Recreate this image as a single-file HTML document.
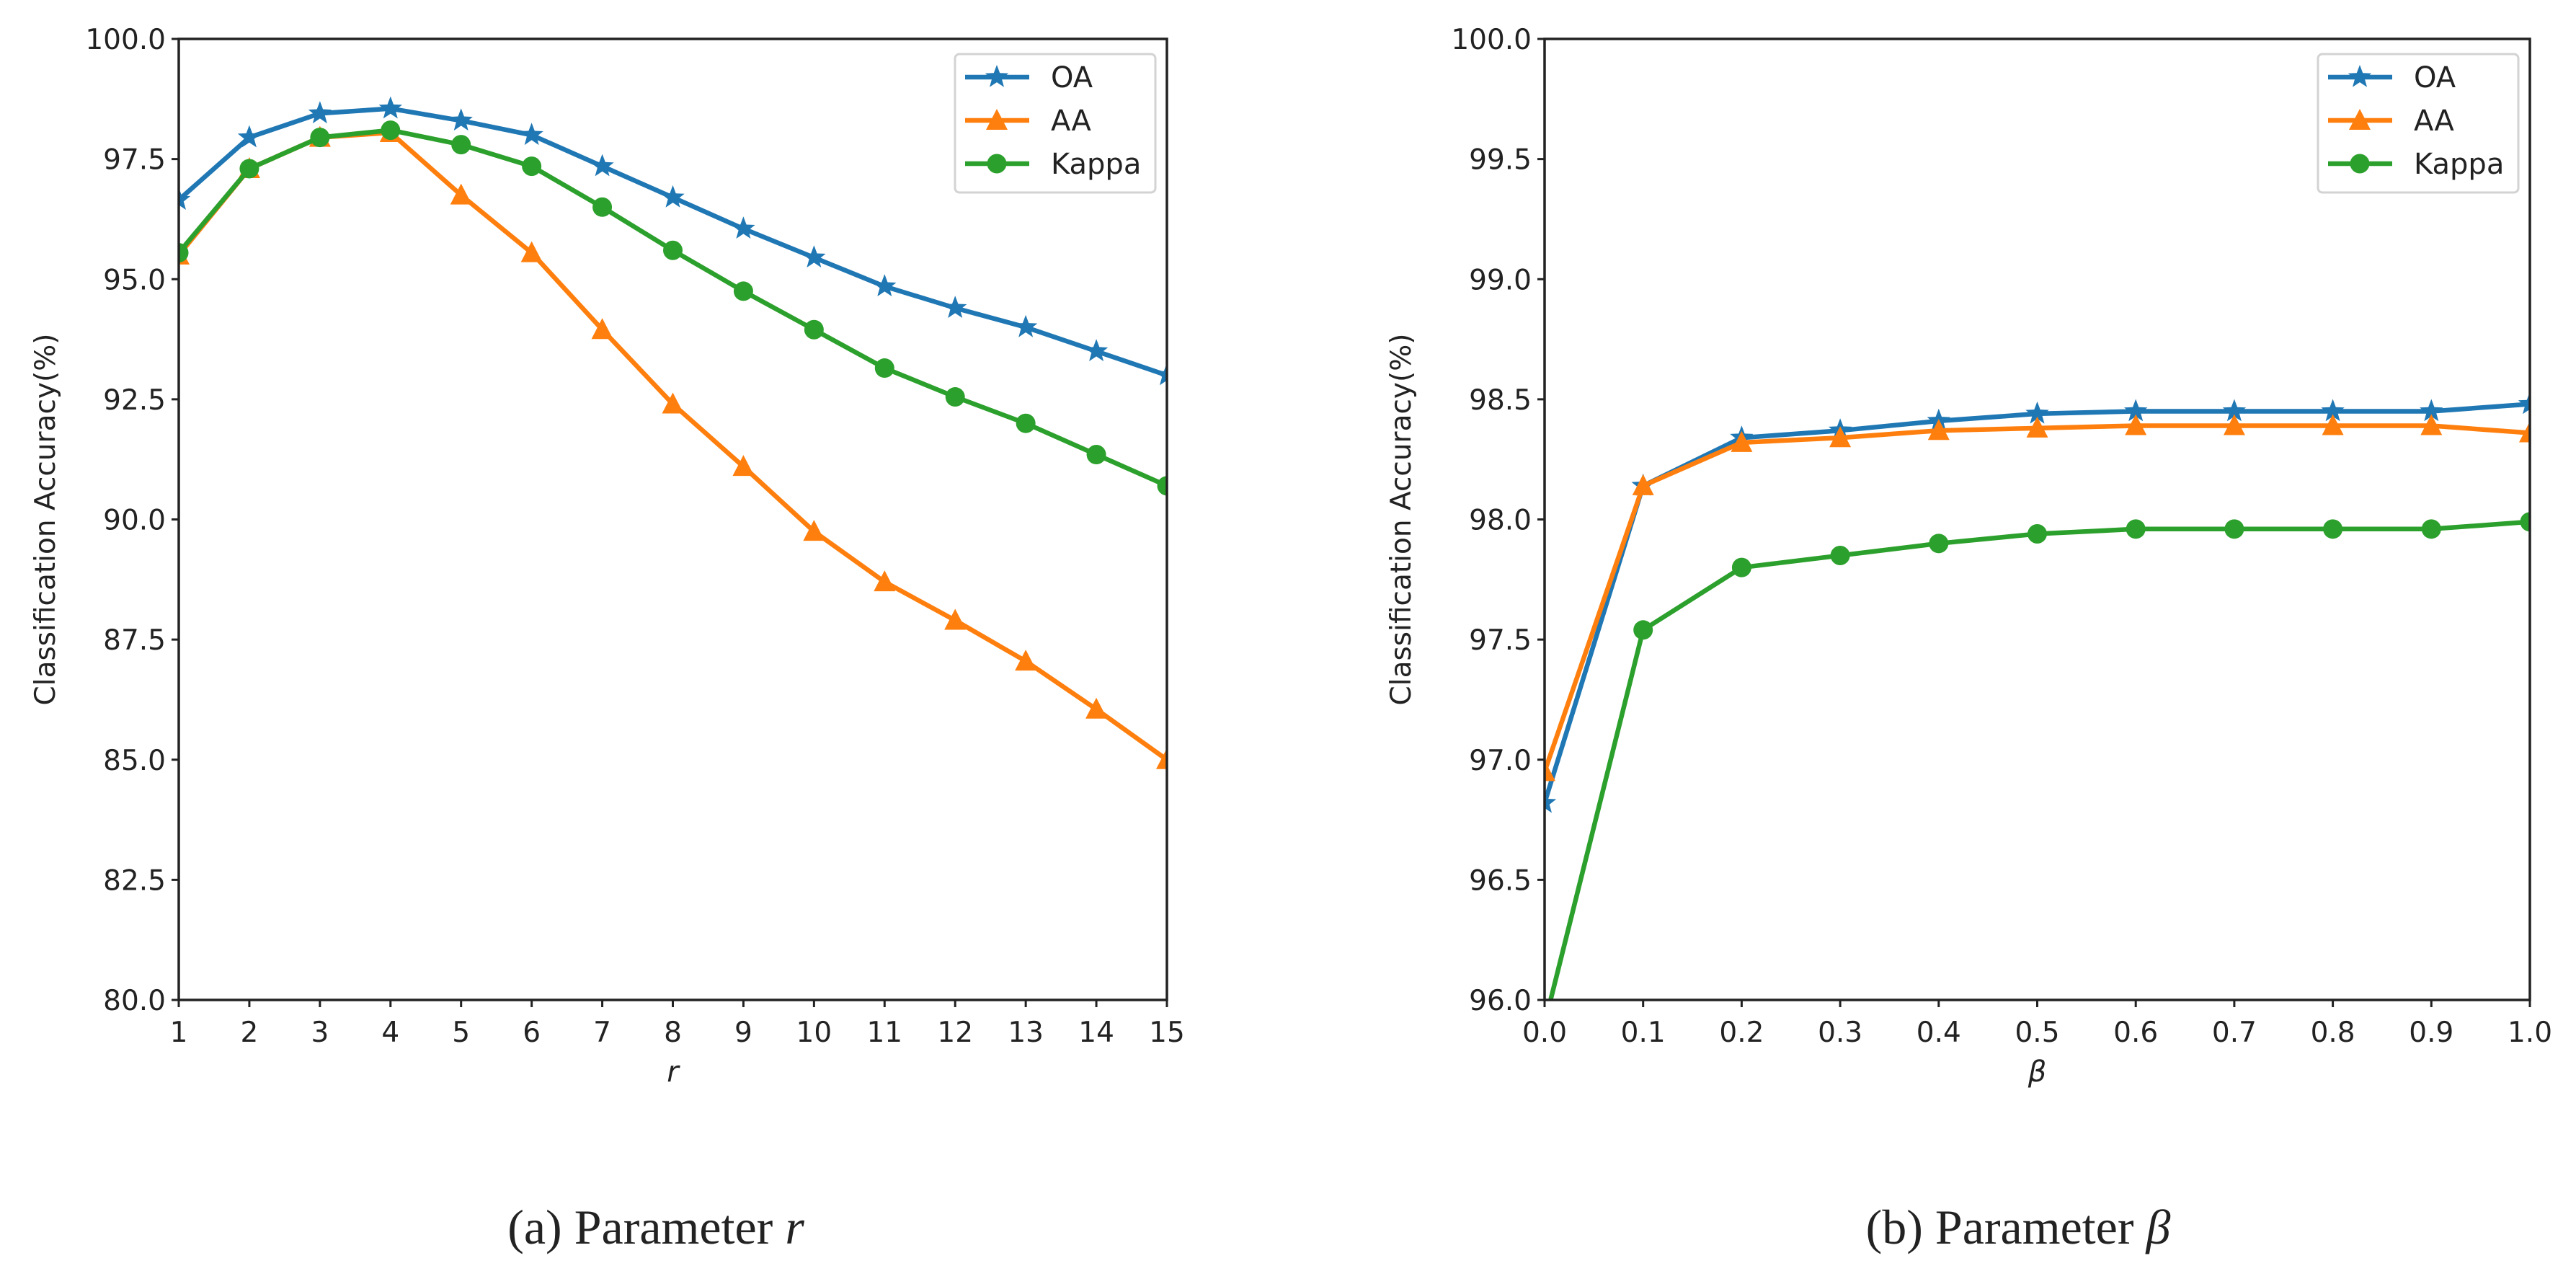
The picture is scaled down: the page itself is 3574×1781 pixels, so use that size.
<!DOCTYPE html>
<html><head><meta charset="utf-8"><style>
body{margin:0;background:#fff}
svg{display:block}
text{font-family:"DejaVu Sans","Liberation Sans",sans-serif;fill:#222}
</style></head><body>
<svg id="fig" width="3574" height="1781" viewBox="0 0 3574 1781" xmlns="http://www.w3.org/2000/svg">
<defs>
<clipPath id="clipA"><rect x="248" y="54" width="1371" height="1333"/></clipPath>
<clipPath id="clipB"><rect x="2143" y="54" width="1367" height="1333"/></clipPath>
</defs>
</svg>
<script>
// ---- Panel (a): parameter r ----
const rCats = [1,2,3,4,5,6,7,8,9,10,11,12,13,14,15];
const rOA = [96.65,97.95,98.45,98.55,98.3,98.0,97.35,96.7,96.05,95.45,94.85,94.4,94.0,93.5,93.0];
const rAA = [95.5,97.3,97.95,98.05,96.75,95.55,93.95,92.4,91.1,89.75,88.7,87.9,87.05,86.05,85.0];
const rKappa = [95.55,97.3,97.95,98.1,97.8,97.35,96.5,95.6,94.75,93.95,93.15,92.55,92.0,91.35,90.7];
const rYTicks = ["80.0","82.5","85.0","87.5","90.0","92.5","95.0","97.5","100.0"];
const rXTicks = ["1","2","3","4","5","6","7","8","9","10","11","12","13","14","15"];
// ---- Panel (b): parameter beta ----
const bCats = [0,0.1,0.2,0.3,0.4,0.5,0.6,0.7,0.8,0.9,1.0];
const bOA = [96.82,98.14,98.34,98.37,98.41,98.44,98.45,98.45,98.45,98.45,98.48];
const bAA = [96.95,98.14,98.32,98.34,98.37,98.38,98.39,98.39,98.39,98.39,98.36];
const bKappa = [95.9,97.54,97.80,97.85,97.90,97.94,97.96,97.96,97.96,97.96,97.99];
const bYTicks = ["96.0","96.5","97.0","97.5","98.0","98.5","99.0","99.5","100.0"];
const bXTicks = ["0.0","0.1","0.2","0.3","0.4","0.5","0.6","0.7","0.8","0.9","1.0"];

const NS = "http://www.w3.org/2000/svg";
const svg = document.getElementById('fig');
const C = {OA:"#1f77b4", AA:"#ff7f0e", Kappa:"#2ca02c"};
function mk(tag, attrs, parent){const e=document.createElementNS(NS,tag);for(const k in attrs)e.setAttribute(k,attrs[k]);(parent||svg).appendChild(e);return e;}
function starPts(cx,cy,R){let p=[];for(let i=0;i<10;i++){const r=i%2?R*0.42:R;const a=-Math.PI/2+i*Math.PI/5;p.push((cx+r*Math.cos(a)).toFixed(1)+","+(cy+r*Math.sin(a)).toFixed(1));}return p.join(" ");}
function marker(kind,x,y,color,g){
  let e;
  if(kind==="star") e=mk('polygon',{points:starPts(x,y,17),fill:color},g);
  else if(kind==="tri") e=mk('polygon',{points:`${x},${y-16} ${x-15},${y+13} ${x+15},${y+13}`,fill:color},g);
  else e=mk('circle',{cx:x,cy:y,r:13.5,fill:color},g);
  return e;
}
function panel(o){
  const X0=o.x0,X1=o.x1,Y0=54,Y1=1387;
  const sx=v=>X0+(v-o.xmin)/(o.xmax-o.xmin)*(X1-X0);
  const sy=v=>Y1-(v-o.ymin)/(o.ymax-o.ymin)*(Y1-Y0);
  const g=mk('g',{});
  
  
  o.yt.forEach(t=>{const y=sy(parseFloat(t));
    const l=mk('line',{x1:X0-10,x2:X0,y1:y,y2:y,stroke:"#222","stroke-width":3},g);
    
    
    const tx=mk('text',{x:X0-18,y:y+14,"text-anchor":"end","font-size":39},g);tx.textContent=t;
    
    
  });
  o.xt.forEach(t=>{const x=sx(parseFloat(t));
    const l=mk('line',{x1:x,x2:x,y1:Y1,y2:Y1+10,stroke:"#222","stroke-width":3},g);
    
    
    const tx=mk('text',{x:x,y:Y1+58,"text-anchor":"middle","font-size":39},g);tx.textContent=t;
    
    
  });
  const series=[["OA",o.OA,"star"],["AA",o.AA,"tri"],["Kappa",o.K,"circ"]];
  series.forEach(([nm,vals,mkind])=>{
    const sg=mk('g',{"clip-path":`url(#${o.clip})`},g);
    
    
    const pts=o.cats.map((c,i)=>sx(c).toFixed(1)+","+sy(vals[i]).toFixed(1)).join(" ");
    const pl=mk('polyline',{points:pts,fill:"none",stroke:C[nm],"stroke-width":6.5,"stroke-linejoin":"round"},sg);
    
    
    o.cats.forEach((c,i)=>{const m=marker(mkind,sx(c),sy(vals[i]),C[nm],sg);
      
      
    });
  });
  const fr=mk('rect',{x:X0,y:Y0,width:X1-X0,height:Y1-Y0,fill:"none",stroke:"#222","stroke-width":3.5},g);
  
  
  const yl=mk('text',{x:0,y:0,"text-anchor":"middle","font-size":39,transform:`translate(${o.ylx},${(Y0+Y1)/2}) rotate(-90)`},g);
  yl.textContent="Classification Accuracy(%)";
  
  
  const xl=mk('text',{x:(X0+X1)/2,y:1500,"text-anchor":"middle","font-size":40,"font-style":"italic"},g);
  xl.textContent=o.xlabel;
  
  
  const lx=X1-294, lg=mk('g',{},g);
  
  
  mk('rect',{x:lx,y:75,width:278,height:192,rx:6,fill:"#fff",stroke:"#d3d3d3","stroke-width":3},lg);
  series.forEach(([nm,v,mkind],i)=>{const y=107+i*60;
    mk('line',{x1:lx+14,x2:lx+103,y1:y,y2:y,stroke:C[nm],"stroke-width":6.5},lg);
    marker(mkind,lx+58,y,C[nm],lg);
    const t=mk('text',{x:lx+133,y:y+14,"font-size":40},lg);t.textContent=nm;
    
    
  });
  const cap=mk('text',{x:o.capx,y:1725,"text-anchor":"middle","font-size":68,style:'font-family:"Liberation Serif",serif'},g);
  cap.innerHTML=o.cap;
  
  
}
panel({name:"panel-r",x0:248,x1:1619,xmin:1,xmax:15,ymin:80,ymax:100,cats:rCats,OA:rOA,AA:rAA,K:rKappa,yt:rYTicks,xt:rXTicks,clip:"clipA",ylx:76,xlabel:"r",capx:910,cap:'(a) Parameter <tspan font-style="italic">r</tspan>'});
panel({name:"panel-beta",x0:2143,x1:3510,xmin:0,xmax:1,ymin:96,ymax:100,cats:bCats,OA:bOA,AA:bAA,K:bKappa,yt:bYTicks,xt:bXTicks,clip:"clipB",ylx:1957,xlabel:"β",capx:2800,cap:'(b) Parameter <tspan font-style="italic">β</tspan>'});
</script>
</body></html>
